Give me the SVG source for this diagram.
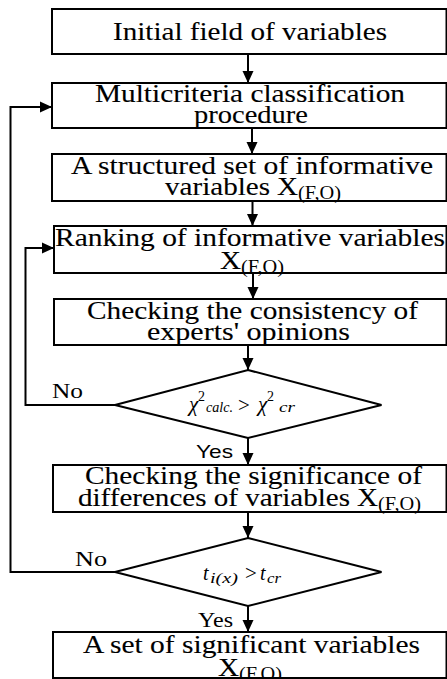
<svg xmlns="http://www.w3.org/2000/svg" width="447" height="679" viewBox="0 0 447 679">
<style>
.box{fill:#fff;stroke:#000;stroke-width:2}
text{fill:#000}
.t{font-size:26px;stroke:#000;stroke-width:0.12px}
.s{font-size:18px}
.m{font-style:italic}
.lbl{font-size:20px}
.c{fill:none;stroke:#000;stroke-width:2}
</style>
<defs>
<marker id="ah" markerUnits="userSpaceOnUse" markerWidth="12" markerHeight="12" refX="12" refY="6" orient="auto">
<path d="M0,0.5 L12,6 L0,11.5 z" fill="#000"/>
</marker>
</defs>
<rect width="447" height="679" fill="#fff"/>
<g font-family="Liberation Serif, Tinos, DejaVu Serif, serif">
<g id="connectors">
<line class="c" x1="248" y1="54" x2="248" y2="83" marker-end="url(#ah)"/>
<line class="c" x1="252" y1="128" x2="252" y2="154" marker-end="url(#ah)"/>
<line class="c" x1="252.5" y1="201" x2="252.5" y2="226" marker-end="url(#ah)"/>
<line class="c" x1="253" y1="273" x2="253" y2="299" marker-end="url(#ah)"/>
<line class="c" x1="248" y1="345" x2="248" y2="370" marker-end="url(#ah)"/>
<line class="c" x1="248" y1="438" x2="248" y2="465" marker-end="url(#ah)"/>
<line class="c" x1="248" y1="512" x2="248" y2="538" marker-end="url(#ah)"/>
<line class="c" x1="248" y1="606" x2="248" y2="632" marker-end="url(#ah)"/>
<polyline class="c" points="115,405 25.5,405 25.5,248 54,248" marker-end="url(#ah)"/>
<polyline class="c" points="115,572 10.5,572 10.5,107 52,107" marker-end="url(#ah)"/>
<text class="lbl" x="52" y="398" textLength="31" lengthAdjust="spacingAndGlyphs">No</text>
<text font-family="Liberation Sans, Arimo, DejaVu Sans, sans-serif" font-size="19" x="196" y="458" textLength="37" lengthAdjust="spacingAndGlyphs">Yes</text>
<text class="lbl" x="75" y="566" textLength="32" lengthAdjust="spacingAndGlyphs">No</text>
<text class="lbl" x="198" y="627" textLength="35" lengthAdjust="spacingAndGlyphs">Yes</text>
</g>
<g id="n1">
<rect class="box" x="52" y="9" width="394.5" height="45"/>
<text class="t" x="113" y="40" textLength="274" lengthAdjust="spacingAndGlyphs">Initial field of variables</text>
</g>
<g id="n2">
<rect class="box" x="52" y="83" width="394.5" height="45"/>
<text class="t" x="95" y="102" textLength="310" lengthAdjust="spacingAndGlyphs">Multicriteria classification</text>
<text class="t" x="194" y="123" textLength="114" lengthAdjust="spacingAndGlyphs">procedure</text>
</g>
<g id="n3">
<rect class="box" x="52" y="154" width="394.5" height="47"/>
<text class="t" x="71" y="174" textLength="362" lengthAdjust="spacingAndGlyphs">A structured set of informative</text>
<text class="t" x="165" y="195" textLength="105" lengthAdjust="spacingAndGlyphs">variables</text>
<text class="t" x="277" y="195" textLength="21" lengthAdjust="spacingAndGlyphs">X</text>
<text class="s" x="298" y="199" textLength="43" lengthAdjust="spacingAndGlyphs">(F,O)</text>
</g>
<g id="n4">
<rect class="box" x="54" y="226" width="392.5" height="47"/>
<text class="t" x="55" y="246" textLength="390" lengthAdjust="spacingAndGlyphs">Ranking of informative variables</text>
<text class="t" x="220" y="269" textLength="21" lengthAdjust="spacingAndGlyphs">X</text>
<text class="s" x="241" y="273" textLength="43" lengthAdjust="spacingAndGlyphs">(F,O)</text>
</g>
<g id="n5">
<rect class="box" x="54" y="299" width="392.5" height="46"/>
<text class="t" x="87" y="319" textLength="331" lengthAdjust="spacingAndGlyphs">Checking the consistency of</text>
<text class="t" x="147" y="340" textLength="203" lengthAdjust="spacingAndGlyphs">experts' opinions</text>
</g>
<g id="d1">
<polygon class="box" points="248,370 381.5,405 248,438 115,405"/>
<text class="m" font-size="21" x="189" y="411">χ</text>
<text font-size="14" x="198" y="401">2</text>
<text class="m" font-size="15" x="206" y="412" textLength="27" lengthAdjust="spacingAndGlyphs">calc.</text>
<text font-size="21" x="238" y="412">&gt;</text>
<text class="m" font-size="21" x="258" y="411">χ</text>
<text font-size="14" x="267" y="401">2</text>
<text class="m" font-size="15" x="279" y="412" textLength="16" lengthAdjust="spacingAndGlyphs">cr</text>
</g>
<g id="n6">
<rect class="box" x="53" y="465" width="393.5" height="47"/>
<text class="t" x="85" y="484" textLength="337" lengthAdjust="spacingAndGlyphs">Checking the significance of</text>
<text class="t" x="78" y="506" textLength="272" lengthAdjust="spacingAndGlyphs">differences of variables</text>
<text class="t" x="357" y="506" textLength="21" lengthAdjust="spacingAndGlyphs">X</text>
<text class="s" x="378" y="510" textLength="43" lengthAdjust="spacingAndGlyphs">(F,O)</text>
</g>
<g id="d2">
<polygon class="box" points="248,538 381.5,572 248,606 115,572"/>
<text class="m" font-size="20" x="203" y="580">t</text>
<text class="m" font-size="15" x="210" y="583" textLength="28" lengthAdjust="spacingAndGlyphs">i(x)</text>
<text font-size="21" x="245" y="580">&gt;</text>
<text class="m" font-size="20" x="260" y="580">t</text>
<text class="m" font-size="15" x="267" y="583" textLength="14" lengthAdjust="spacingAndGlyphs">cr</text>
</g>
<g id="n7">
<rect class="box" x="53" y="632" width="393.5" height="46"/>
<text class="t" x="83" y="653" textLength="337" lengthAdjust="spacingAndGlyphs">A set of significant variables</text>
<text class="t" x="218" y="676" textLength="21" lengthAdjust="spacingAndGlyphs">X</text>
<text class="s" x="239" y="680" textLength="43" lengthAdjust="spacingAndGlyphs">(F,O)</text>
</g>
</g>
</svg>
